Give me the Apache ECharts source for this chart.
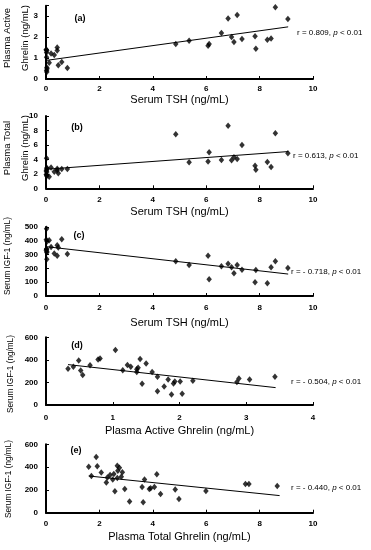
<!DOCTYPE html>
<html><head><meta charset="utf-8">
<script src="https://cdn.jsdelivr.net/npm/echarts@6/dist/echarts.min.js"></script>
<style>html,body{margin:0;padding:0;background:#fff}#c{width:371px;height:550px}</style>
</head><body><div id="c"></div>
<script>
// Subject-level values (33 subjects)
const tsh = [0.03,0.02,0.04,0.80,0.03,0.46,0.12,0.59,0.02,0.31,0.19,0.02,0.03,0.01,0.42,0.01,0.42,
  4.86,5.36,6.07,6.11,6.57,6.82,6.95,7.04,7.16,7.34,7.83,7.86,8.29,8.43,8.59,9.06];
const activeGhrelin = [0.33,0.41,0.49,0.52,0.55,0.66,0.78,0.81,1.04,1.15,1.22,1.27,1.36,1.38,1.36,1.41,1.50,
  1.67,1.83,1.59,1.67,2.20,2.89,2.01,1.77,3.05,1.91,2.04,1.44,1.88,1.93,3.43,2.86];
const totalGhrelin = [1.70,4.15,2.75,2.67,2.26,2.07,1.60,2.67,1.88,2.30,2.86,2.54,2.82,2.40,2.50,1.92,2.69,
  7.47,3.60,3.69,4.98,3.92,8.66,3.87,4.29,4.06,5.99,3.13,2.58,3.64,2.95,7.60,4.84];
const igf1 = [322,338,395,305,266,352,404,412,488,308,355,340,316,331,292,408,368,
  251,225,292,121,215,234,208,164,225,191,99,188,92,208,251,203];

// Regression line end points
const fitA = [[0.02,0.89],[9.07,2.49]];
const fitB = [[0.02,2.64],[9.07,5.08]];
const fitC = [[0.02,357],[9.07,159]];
const fitD = [[0.33,358],[3.44,154]];
const fitE = [[1.60,322],[8.75,150]];

const panelLabels = ['(a)','(b)','(c)','(d)','(e)'];
const rValues = ['0.809','0.613','- 0.718','- 0.504','- 0.440'];
const xTitles = ['Serum TSH (ng/mL)','Serum TSH (ng/mL)','Serum TSH (ng/mL)','Plasma Active Ghrelin (ng/mL)','Plasma Total Ghrelin (ng/mL)'];
const yTitles = ['Plasma Active\nGhrelin (ng/mL)','Plasma Total\nGhrelin (ng/mL)','Serum IGF-1 (ng/mL)','Serum IGF-1 (ng/mL)','Serum IGF-1 (ng/mL)'];
const xMax = [10,10,10,4,10];
const xStep = [2,2,2,1,2];
const yMax = [3.5,10,500,600,600];
const yStep = [1,2,100,200,200];

const pairs = (xs, ys) => xs.map((v, i) => [v, ys[i]]);
const scatterData = [pairs(tsh, activeGhrelin), pairs(tsh, totalGhrelin), pairs(tsh, igf1), pairs(activeGhrelin, igf1), pairs(totalGhrelin, igf1)];
const fits = [fitA, fitB, fitC, fitD, fitE];

const FF = '"Liberation Sans", Arial, sans-serif';
const grids = [
  {top: 5.7, h: 73.3, lm: 6},
  {top: 116, h: 72.3, lm: 7},
  {top: 227, h: 69, lm: 7.5},
  {top: 337.3, h: 67.7, lm: 8.5},
  {top: 444.3, h: 68.4, lm: 7.3}
];
const xTitleY = [100, 212, 323, 431, 537];
const rPos = [[297,33],[293,156],[291,272],[291,382],[291,488]];
const labPos = [[80,19],[77,128],[79,236],[77,346],[76,451]];
const yTitlePos = [[16,38],[16,148],[8,256],[11,374],[8.5,479]];
const yTitleSize = [9.5, 9.5, 8.2, 8.2, 8.2];

const option = {
  animation: false,
  backgroundColor: '#fff',
  grid: grids.map(g => ({left: 46, width: 267, top: g.top, height: g.h})),
  xAxis: grids.map((g, i) => ({
    gridIndex: i, type: 'value', min: 0, max: xMax[i], interval: xStep[i],
    axisLine: {show: true, onZero: false, lineStyle: {color: '#000', width: 2}},
    axisTick: {show: true, inside: true, length: 3, lineStyle: {color: '#000', width: 1}},
    axisLabel: {margin: g.lm, fontSize: 8, fontWeight: 'bold', color: '#000', fontFamily: FF},
    splitLine: {show: false}
  })),
  yAxis: grids.map((g, i) => ({
    gridIndex: i, type: 'value', min: 0, max: yMax[i], interval: yStep[i],
    axisLine: {show: true, onZero: false, lineStyle: {color: '#000', width: 2}},
    axisTick: {show: true, inside: true, length: 3, lineStyle: {color: '#000', width: 1}},
    axisLabel: {margin: 8, fontSize: 8, fontWeight: 'bold', color: '#000', fontFamily: FF,
      formatter: v => (Math.abs(v / yStep[i] - Math.round(v / yStep[i])) < 1e-9 ? String(v) : '')},
    splitLine: {show: false}
  })),
  series: [].concat(
    scatterData.map((d, i) => ({
      type: 'scatter', xAxisIndex: i, yAxisIndex: i, data: d,
      symbol: 'diamond', symbolSize: [5.5, 6.5], itemStyle: {color: '#000'}, silent: true
    })),
    fits.map((d, i) => ({
      type: 'line', xAxisIndex: i, yAxisIndex: i, data: d, symbol: 'none',
      lineStyle: {color: '#000', width: 1}, silent: true, z: 1
    }))
  ),
  graphic: [].concat(
    panelLabels.map((t, i) => ({type: 'text', x: labPos[i][0], y: labPos[i][1],
      style: {text: t, font: 'bold 9px ' + FF, fill: '#000', textAlign: 'center', textVerticalAlign: 'middle'}})),
    rValues.map((t, i) => ({type: 'text', x: rPos[i][0], y: rPos[i][1],
      style: {text: '{n|r = ' + t + ', }{i|p}{n| < 0.01}', textAlign: 'left', textVerticalAlign: 'middle', fill: '#000',
        rich: {n: {fontSize: 8, fontFamily: FF, fill: '#000'}, i: {fontSize: 8, fontFamily: FF, fontStyle: 'italic', fill: '#000'}}}})),
    xTitles.map((t, i) => ({type: 'text', x: 179.5, y: xTitleY[i],
      style: {text: t, font: '11px ' + FF, fill: '#000', textAlign: 'center', textVerticalAlign: 'middle'}})),
    yTitles.map((t, i) => ({type: 'text', x: yTitlePos[i][0], y: yTitlePos[i][1], rotation: Math.PI / 2,
      style: {text: t, font: yTitleSize[i] + 'px ' + FF, fill: '#000', textAlign: 'center', textVerticalAlign: 'middle', lineHeight: 18}}))
  )
};
echarts.init(document.getElementById('c'), null, {renderer: 'canvas'}).setOption(option);
</script>
</body></html>
